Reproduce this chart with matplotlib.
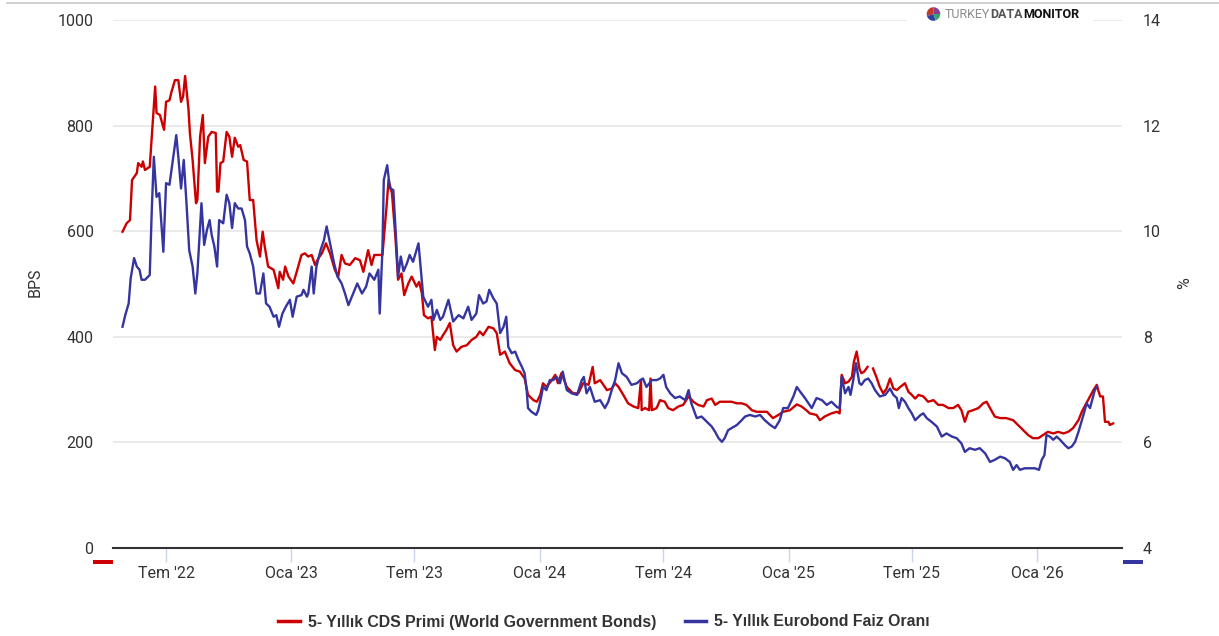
import matplotlib
matplotlib.use('Agg')
import numpy as np
import pandas as pd
import matplotlib.pyplot as plt
from matplotlib.lines import Line2D
from matplotlib.patches import Rectangle
from matplotlib.text import Annotation

# 5y CDS premium (BPS, left axis)
cds_dates = [
    '2022-04-28', '2022-05-04', '2022-05-09', '2022-05-12', '2022-05-19', '2022-05-21', '2022-05-26', '2022-05-28',
    '2022-05-31', '2022-06-07', '2022-06-11', '2022-06-15', '2022-06-17', '2022-06-22', '2022-06-28', '2022-07-01',
    '2022-07-06', '2022-07-09', '2022-07-14', '2022-07-19', '2022-07-23', '2022-07-26', '2022-07-29', '2022-08-03',
    '2022-08-05', '2022-08-09', '2022-08-14', '2022-08-16', '2022-08-20', '2022-08-24', '2022-08-27', '2022-09-01',
    '2022-09-06', '2022-09-12', '2022-09-14', '2022-09-16', '2022-09-19', '2022-09-23', '2022-09-28', '2022-10-02',
    '2022-10-06', '2022-10-10', '2022-10-15', '2022-10-18', '2022-10-23', '2022-10-28', '2022-11-01', '2022-11-06',
    '2022-11-11', '2022-11-16', '2022-11-20', '2022-11-23', '2022-11-28', '2022-12-06', '2022-12-13', '2022-12-15',
    '2022-12-20', '2022-12-23', '2022-12-28', '2023-01-04', '2023-01-09', '2023-01-16', '2023-01-21', '2023-01-26',
    '2023-01-31', '2023-02-05', '2023-02-10', '2023-02-15', '2023-02-21', '2023-02-27', '2023-03-06', '2023-03-11',
    '2023-03-16', '2023-03-21', '2023-03-28', '2023-04-05', '2023-04-12', '2023-04-17', '2023-04-24', '2023-04-29',
    '2023-05-03', '2023-05-09', '2023-05-15', '2023-05-21', '2023-05-24', '2023-05-29', '2023-06-03', '2023-06-07',
    '2023-06-12', '2023-06-16', '2023-06-22', '2023-06-27', '2023-07-04', '2023-07-08', '2023-07-12', '2023-07-15',
    '2023-07-21', '2023-07-26', '2023-07-31', '2023-08-03', '2023-08-08', '2023-08-12', '2023-08-17', '2023-08-22',
    '2023-08-27', '2023-09-01', '2023-09-08', '2023-09-16', '2023-09-23', '2023-09-30', '2023-10-05', '2023-10-10',
    '2023-10-18', '2023-10-25', '2023-10-30', '2023-11-04', '2023-11-11', '2023-11-18', '2023-11-26', '2023-12-03',
    '2023-12-10', '2023-12-15', '2023-12-23', '2023-12-28', '2024-01-02', '2024-01-06', '2024-01-11', '2024-01-19',
    '2024-01-24', '2024-01-28', '2024-02-02', '2024-02-10', '2024-02-19', '2024-02-27', '2024-03-05', '2024-03-13',
    '2024-03-19', '2024-03-22', '2024-03-30', '2024-04-09', '2024-04-16', '2024-04-21', '2024-04-26', '2024-05-03',
    '2024-05-10', '2024-05-18', '2024-05-25', '2024-05-29', '2024-05-30', '2024-06-04', '2024-06-10', '2024-06-12',
    '2024-06-14', '2024-06-21', '2024-06-26', '2024-07-03', '2024-07-08', '2024-07-15', '2024-07-23', '2024-07-30',
    '2024-08-07', '2024-08-14', '2024-08-21', '2024-08-29', '2024-09-03', '2024-09-10', '2024-09-15', '2024-09-22',
    '2024-10-02', '2024-10-09', '2024-10-17', '2024-10-24', '2024-10-31', '2024-11-08', '2024-11-15', '2024-11-22',
    '2024-11-30', '2024-12-09', '2024-12-17', '2024-12-24', '2025-01-03', '2025-01-13', '2025-01-20', '2025-01-27',
    '2025-02-01', '2025-02-11', '2025-02-16', '2025-02-23', '2025-03-05', '2025-03-13', '2025-03-17', '2025-03-20',
    '2025-03-25', '2025-03-30', '2025-04-04', '2025-04-07', '2025-04-11', '2025-04-15', '2025-04-18', '2025-04-22',
    '2025-04-27', '2025-05-01', '2025-05-05', '2025-05-10', '2025-05-15', '2025-05-20', '2025-05-25', '2025-05-30',
    '2025-06-04', '2025-06-09', '2025-06-14', '2025-06-21', '2025-06-26', '2025-07-01', '2025-07-06', '2025-07-11',
    '2025-07-18', '2025-07-25', '2025-08-02', '2025-08-09', '2025-08-16', '2025-08-24', '2025-08-31', '2025-09-07',
    '2025-09-12', '2025-09-17', '2025-09-22', '2025-09-29', '2025-10-07', '2025-10-14', '2025-10-19', '2025-10-24',
    '2025-10-31', '2025-11-08', '2025-11-17', '2025-11-27', '2025-12-04', '2025-12-12', '2025-12-19', '2025-12-26',
    '2026-01-03', '2026-01-10', '2026-01-17', '2026-01-25', '2026-02-01', '2026-02-09', '2026-02-16', '2026-02-23',
    '2026-03-03', '2026-03-08', '2026-03-12', '2026-03-17', '2026-03-25', '2026-03-30', '2026-04-01', '2026-04-04',
    '2026-04-08', '2026-04-11', '2026-04-16', '2026-04-18', '2026-04-23']
cds_bps = [
    599, 615, 621, 697, 710, 729, 722, 732, 716, 722, 798, 874, 824, 820, 792, 845,
    848, 864, 886, 886, 845, 855, 894, 830, 786, 735, 653, 659, 779, 820, 729, 779,
    788, 786, 675, 675, 729, 732, 788, 779, 741, 777, 760, 763, 735, 732, 659, 659,
    583, 552, 599, 571, 533, 527, 492, 523, 508, 533, 514, 501, 523, 555, 558, 552,
    555, 536, 549, 558, 577, 558, 527, 514, 555, 539, 536, 549, 545, 523, 564, 536,
    555, 555, 555, 646, 697, 672, 590, 508, 520, 479, 501, 514, 495, 504, 482, 441,
    435, 438, 375, 400, 394, 403, 413, 426, 384, 372, 381, 384, 394, 400, 410, 403,
    419, 416, 407, 366, 372, 350, 337, 334, 321, 290, 280, 277, 290, 312, 305, 318,
    328, 312, 331, 305, 293, 293, 312, 309, 343, 312, 318, 299, 302, 312, 305, 290,
    274, 268, 265, 318, 261, 265, 261, 321, 261, 265, 280, 277, 265, 261, 268, 271,
    287, 277, 271, 268, 280, 283, 271, 277, 277, 277, 274, 274, 271, 261, 258, 258,
    258, 246, 252, 258, 261, 272, 268, 261, 255, 252, 242, 249, 255, 258, 255, 328,
    312, 315, 324, 353, 372, 340, 331, 334, 343, np.nan, 340, 324, 305, 293, 302, 321,
    302, 299, 305, 312, 296, 290, 283, 290, 287, 277, 280, 271, 271, 265, 265, 271,
    261, 239, 258, 261, 265, 274, 277, 265, 249, 246, 246, 242, 233, 223, 214, 208,
    208, 214, 220, 217, 220, 217, 220, 227, 242, 258, 268, 280, 299, 309, 299, 287,
    287, 239, 239, 233, 236]

# 5y Eurobond yield (%, right axis)
euro_dates = [
    '2022-04-28', '2022-05-02', '2022-05-07', '2022-05-10', '2022-05-15', '2022-05-19', '2022-05-23', '2022-05-26',
    '2022-05-31', '2022-06-07', '2022-06-10', '2022-06-13', '2022-06-17', '2022-06-21', '2022-06-27', '2022-07-01',
    '2022-07-06', '2022-07-11', '2022-07-16', '2022-07-19', '2022-07-23', '2022-07-27', '2022-07-31', '2022-08-04',
    '2022-08-09', '2022-08-13', '2022-08-16', '2022-08-22', '2022-08-26', '2022-08-30', '2022-09-03', '2022-09-06',
    '2022-09-10', '2022-09-14', '2022-09-17', '2022-09-23', '2022-09-28', '2022-10-02', '2022-10-06', '2022-10-10',
    '2022-10-15', '2022-10-20', '2022-10-25', '2022-10-28', '2022-11-01', '2022-11-06', '2022-11-11', '2022-11-16',
    '2022-11-21', '2022-11-25', '2022-11-30', '2022-12-06', '2022-12-10', '2022-12-14', '2022-12-19', '2022-12-24',
    '2022-12-30', '2023-01-03', '2023-01-09', '2023-01-16', '2023-01-19', '2023-01-24', '2023-01-26', '2023-01-31',
    '2023-02-03', '2023-02-07', '2023-02-13', '2023-02-18', '2023-02-22', '2023-02-27', '2023-03-05', '2023-03-10',
    '2023-03-16', '2023-03-21', '2023-03-26', '2023-04-02', '2023-04-08', '2023-04-15', '2023-04-21', '2023-04-26',
    '2023-05-03', '2023-05-09', '2023-05-11', '2023-05-15', '2023-05-17', '2023-05-22', '2023-05-26', '2023-05-31',
    '2023-06-05', '2023-06-07', '2023-06-11', '2023-06-15', '2023-06-20', '2023-06-24', '2023-06-29', '2023-07-07',
    '2023-07-14', '2023-07-21', '2023-07-26', '2023-07-29', '2023-08-03', '2023-08-08', '2023-08-12', '2023-08-20',
    '2023-08-27', '2023-09-04', '2023-09-11', '2023-09-18', '2023-09-23', '2023-09-30', '2023-10-04', '2023-10-10',
    '2023-10-15', '2023-10-19', '2023-10-25', '2023-10-30', '2023-11-04', '2023-11-09', '2023-11-13', '2023-11-16',
    '2023-11-21', '2023-11-26', '2023-12-01', '2023-12-06', '2023-12-10', '2023-12-13', '2023-12-15', '2023-12-20',
    '2023-12-27', '2023-12-30', '2024-01-03', '2024-01-06', '2024-01-11', '2024-01-16', '2024-01-21', '2024-01-26',
    '2024-01-31', '2024-02-04', '2024-02-10', '2024-02-17', '2024-02-25', '2024-03-03', '2024-03-06', '2024-03-10',
    '2024-03-15', '2024-03-22', '2024-03-30', '2024-04-06', '2024-04-11', '2024-04-16', '2024-04-21', '2024-04-26',
    '2024-05-01', '2024-05-08', '2024-05-15', '2024-05-23', '2024-05-28', '2024-06-01', '2024-06-06', '2024-06-14',
    '2024-06-21', '2024-06-26', '2024-07-01', '2024-07-05', '2024-07-11', '2024-07-18', '2024-07-25', '2024-08-02',
    '2024-08-07', '2024-08-11', '2024-08-19', '2024-08-26', '2024-09-03', '2024-09-10', '2024-09-15', '2024-09-20',
    '2024-09-25', '2024-09-29', '2024-10-04', '2024-10-09', '2024-10-17', '2024-10-24', '2024-10-29', '2024-11-05',
    '2024-11-13', '2024-11-20', '2024-11-27', '2024-12-05', '2024-12-12', '2024-12-19', '2024-12-24', '2024-12-31',
    '2025-01-08', '2025-01-13', '2025-01-18', '2025-01-25', '2025-02-04', '2025-02-11', '2025-02-19', '2025-02-26',
    '2025-03-05', '2025-03-13', '2025-03-17', '2025-03-20', '2025-03-25', '2025-03-30', '2025-04-02', '2025-04-06',
    '2025-04-10', '2025-04-15', '2025-04-18', '2025-04-23', '2025-04-28', '2025-05-03', '2025-05-08', '2025-05-15',
    '2025-05-23', '2025-05-30', '2025-06-04', '2025-06-09', '2025-06-12', '2025-06-16', '2025-06-21', '2025-06-26',
    '2025-07-01', '2025-07-06', '2025-07-14', '2025-07-18', '2025-07-23', '2025-07-30', '2025-08-07', '2025-08-14',
    '2025-08-21', '2025-08-29', '2025-09-05', '2025-09-12', '2025-09-17', '2025-09-24', '2025-10-02', '2025-10-09',
    '2025-10-17', '2025-10-24', '2025-10-31', '2025-11-08', '2025-11-15', '2025-11-22', '2025-11-27', '2025-12-02',
    '2025-12-07', '2025-12-14', '2025-12-22', '2025-12-29', '2026-01-04', '2026-01-08', '2026-01-12', '2026-01-15',
    '2026-01-20', '2026-01-25', '2026-01-30', '2026-02-04', '2026-02-11', '2026-02-16', '2026-02-21', '2026-02-26',
    '2026-03-03', '2026-03-08', '2026-03-11', '2026-03-15', '2026-03-20', '2026-03-24', '2026-03-27', '2026-03-30']
euro_pct = [
    8.19, 8.41, 8.63, 9.11, 9.49, 9.33, 9.27, 9.08, 9.08, 9.17, 10.40, 11.41, 10.65, 10.72, 9.61, 10.91,
    10.88, 11.35, 11.82, 11.41, 10.81, 11.35, 10.53, 9.64, 9.33, 8.82, 9.20, 10.53, 9.74, 10.02, 10.21, 9.93,
    9.71, 9.33, 10.21, 10.15, 10.69, 10.53, 10.06, 10.53, 10.43, 10.43, 10.21, 9.71, 9.58, 9.33, 8.82, 8.82,
    9.20, 8.63, 8.57, 8.38, 8.41, 8.19, 8.44, 8.57, 8.70, 8.38, 8.76, 8.79, 8.89, 8.76, 8.82, 9.33,
    8.82, 9.33, 9.64, 9.83, 10.09, 9.77, 9.39, 9.14, 9.01, 8.82, 8.60, 8.82, 9.01, 8.82, 8.95, 9.20,
    9.08, 9.27, 8.44, 9.64, 10.97, 11.25, 10.81, 10.78, 9.64, 9.14, 9.52, 9.24, 9.39, 9.55, 9.42, 9.77,
    8.76, 8.57, 8.70, 8.32, 8.51, 8.32, 8.38, 8.70, 8.29, 8.41, 8.35, 8.57, 8.32, 8.44, 8.79, 8.63,
    8.67, 8.89, 8.73, 8.63, 8.07, 8.19, 8.38, 7.81, 7.69, 7.72, 7.56, 7.43, 7.31, 6.99, 6.65, 6.58,
    6.52, 6.61, 6.84, 7.05, 6.99, 7.18, 7.18, 7.24, 7.12, 7.34, 6.99, 6.93, 6.90, 7.18, 7.24, 6.93,
    7.05, 6.77, 6.80, 6.65, 6.77, 6.99, 7.18, 7.50, 7.31, 7.24, 7.09, 7.12, 7.18, 7.21, 7.05, 7.18,
    7.18, 7.21, 7.28, 7.05, 6.93, 6.84, 6.87, 6.80, 6.99, 6.74, 6.46, 6.49, 6.39, 6.30, 6.20, 6.08,
    6.01, 6.08, 6.23, 6.27, 6.33, 6.42, 6.49, 6.52, 6.49, 6.52, 6.42, 6.33, 6.27, 6.42, 6.65, 6.65,
    6.87, 7.05, 6.96, 6.84, 6.65, 6.84, 6.80, 6.71, 6.77, 6.67, 6.65, 7.24, 6.93, 7.05, 6.90, 7.18,
    7.50, 7.12, 7.09, 7.18, 7.21, 7.12, 6.99, 6.87, 6.90, 7.02, 6.90, 6.84, 6.65, 6.84, 6.77, 6.65,
    6.55, 6.42, 6.52, 6.55, 6.46, 6.39, 6.30, 6.11, 6.17, 6.11, 6.08, 5.98, 5.82, 5.89, 5.86, 5.89,
    5.79, 5.63, 5.67, 5.73, 5.70, 5.63, 5.48, 5.57, 5.48, 5.51, 5.51, 5.51, 5.48, 5.67, 5.76, 6.14,
    6.11, 6.05, 6.11, 6.05, 5.95, 5.89, 5.92, 6.01, 6.20, 6.42, 6.55, 6.74, 6.65, 6.84, 6.99, 7.05]

tick_months = ['2022-07-01', '2023-01-01', '2023-07-01', '2024-01-01',
               '2024-07-01', '2025-01-01', '2025-07-01', '2026-01-01']
tick_labels = ["Tem '22", "Oca '23", "Tem '23", "Oca '24", "Tem '24", "Oca '25", "Tem '25", "Oca '26"]
series_names = ['5- Yıllık CDS Primi (World Government Bonds)', '5- Yıllık Eurobond Faiz Oranı']

RED = '#cc0000'
BLUE = '#3535a0'
TXT = '#333333'
W, H = 1219, 636

fig = plt.figure(figsize=(W / 100, H / 100), dpi=100)
ax = fig.add_axes([113 / W, 1 - 548 / H, (1122 - 113) / W, (548 - 20) / H])
ax2 = ax.twinx()

l1, = ax.plot(pd.to_datetime(cds_dates), cds_bps, color=RED, lw=1.7)
l2, = ax2.plot(pd.to_datetime(euro_dates), euro_pct, color=BLUE, lw=1.7)

ax.set_xlim(pd.Timestamp('2022-04-14'), pd.Timestamp('2026-05-06'))
ax.set_ylim(0, 1000)
ax2.set_ylim(4, 14)
ax.set_yticks(np.arange(0, 1001, 200))
ax2.set_yticks(np.arange(4, 15, 2))
ax.set_xticks(pd.to_datetime(tick_months))
ax.set_xticklabels(tick_labels)

ax.yaxis.grid(True, color='#e6e6e6', lw=1.2)
ax.set_axisbelow(True)
for a in (ax, ax2):
    for s in a.spines.values():
        s.set_visible(False)
ax.spines['bottom'].set_visible(True)
ax.spines['bottom'].set_color(TXT)
ax.spines['bottom'].set_linewidth(1.5)

ax.tick_params(axis='x', length=10, width=1, color='#ccd6eb', pad=3,
               labelsize=11.5, labelcolor=TXT)
ax.tick_params(axis='y', length=0, pad=14, labelsize=11.5, labelcolor=TXT)
ax2.tick_params(axis='y', length=0, pad=15, labelsize=11.5, labelcolor=TXT)
for lab in ax.get_xticklabels() + ax.get_yticklabels() + ax2.get_yticklabels():
    lab.set_family('Roboto')

fig.text(35 / W, 1 - 282 / H, 'BPS', rotation=90, ha='center', va='center',
         fontsize=11.5, color=TXT, family='Roboto')
fig.text(1185 / W, 1 - 283 / H, '%', rotation=90, ha='center', va='center',
         fontsize=11.5, color=TXT, family='Roboto')

# small axis colour markers under the axis ends
fig.add_artist(Rectangle((93 / W, 1 - 564 / H), 20 / W, 4 / H, transform=fig.transFigure,
                         facecolor=RED, edgecolor='none'))
fig.add_artist(Rectangle((1123 / W, 1 - 564 / H), 20 / W, 4 / H, transform=fig.transFigure,
                         facecolor=BLUE, edgecolor='none'))

# thin frame line on top
fig.add_artist(Line2D([7 / W, 1], [1 - 3 / H, 1 - 3 / H], transform=fig.transFigure,
                      color='#c8c8c8', lw=1.2))

# watermark
fig.add_artist(Rectangle((907 / W, 1 - 30 / H), (1093 - 907) / W, 26 / H, transform=fig.transFigure,
                         facecolor='white', edgecolor='none', zorder=1))
logo = fig.add_axes([925 / W, 1 - 23 / H, 17 / W, 18 / H], zorder=2)
logo.pie([30, 25, 20, 25], colors=['#c0392b', '#2e3fa0', '#3aa66a', '#8e3b8e'], startangle=90)
logo.set_aspect('equal')
logo.axis('off')
t1 = fig.text(945 / W, 1 - 14 / H, 'TURKEY', fontsize=9, color='#8c8c8c', family='Roboto',
              ha='left', va='center', zorder=3)
t2 = Annotation('DATA', xy=(1, 0.5), xycoords=t1, ha='left', va='center', fontsize=9,
                color='#555555', family='Roboto', fontweight='bold')
fig.add_artist(t2)
t3 = Annotation('MONITOR', xy=(1, 0.5), xycoords=t2, ha='left', va='center', fontsize=9,
                color='#111111', family='Roboto', fontweight='bold')
fig.add_artist(t3)

leg_handles = [Line2D([], [], color=RED, lw=2.5), Line2D([], [], color=BLUE, lw=2.5)]
fig.legend(leg_handles, series_names, loc='center', bbox_to_anchor=(604 / W, 1 - 622 / H),
           ncol=2, frameon=False, handlelength=1.35, handletextpad=0.5, columnspacing=1.8,
           prop={'family': 'Liberation Sans', 'weight': 'bold', 'size': 11.4}, labelcolor=TXT)

fig.savefig('out.png', dpi=100)
